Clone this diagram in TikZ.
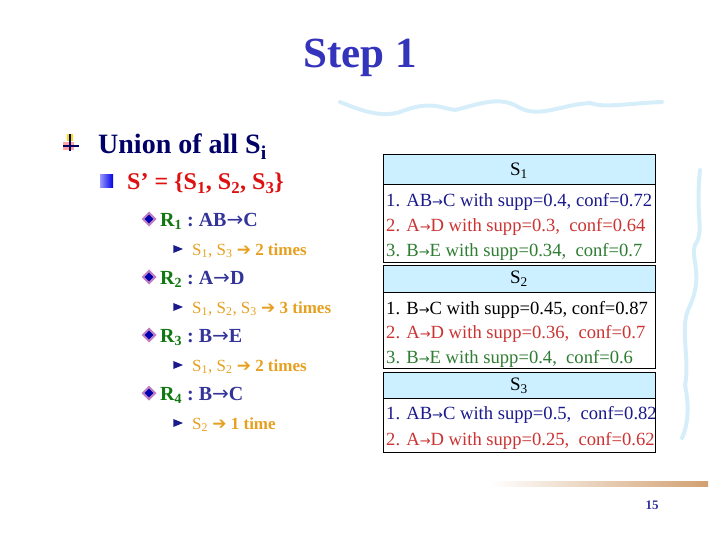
\documentclass[tikz,border=0pt]{standalone}
\usepackage{fontspec}
\setmainfont{Liberation Serif}
\newfontfamily\djv{DejaVu Sans}
\usetikzlibrary{shapes.geometric}
\definecolor{ttl}{HTML}{3333BB}
\definecolor{navy}{HTML}{000066}
\definecolor{sred}{HTML}{DD1111}
\definecolor{rgreen}{HTML}{117711}
\definecolor{rblue}{HTML}{333399}
\definecolor{subor}{HTML}{E6A020}
\definecolor{hdr}{HTML}{CCF0FF}
\definecolor{tnavy}{HTML}{1A1A8C}
\definecolor{tred}{HTML}{CC3333}
\definecolor{tgreen}{HTML}{2E7D32}
\definecolor{wave}{HTML}{D6EEFA}
\definecolor{bar}{HTML}{D2A071}
\tikzset{
 lvl1/.style={anchor=base west,font=\bfseries\fontsize{28}{30}\selectfont,text=navy,inner sep=0},
 lvl2/.style={anchor=base west,font=\bfseries\fontsize{24}{26}\selectfont,text=sred,inner sep=0},
 lvl3/.style={anchor=base west,font=\bfseries\fontsize{20}{22}\selectfont,text=rblue,inner sep=0},
 lvl4/.style={anchor=base west,font=\fontsize{17}{19}\selectfont,text=subor,inner sep=0},
 dia/.style={diamond,draw=violet!50,fill=blue!70!black,line width=2pt,inner sep=0,minimum size=13pt},
 tri/.style={isosceles triangle,fill=tnavy,inner sep=0,minimum height=8pt,minimum width=8pt},
 hdrbox/.style={draw=black,line width=1pt,fill=hdr},
 bodybox/.style={draw=black,line width=1pt,fill=white},
 row/.style={anchor=base west,font=\fontsize{18.6}{21}\selectfont,inner sep=0},
 hdrtxt/.style={font=\fontsize{19}{21}\selectfont,inner sep=0}
}
\begin{document}
\begin{tikzpicture}[x=1pt,y=-1pt]
\useasboundingbox (0,0) rectangle (720,540);
% decorations
\draw[wave,line width=4pt,line cap=round] (340,102) .. controls (360,110) and (380,118) .. (400,112) .. controls (430,100) and (440,108) .. (455,110) .. controls (480,104) and (500,95) .. (520,108) .. controls (540,118) and (560,105) .. (590,103) .. controls (605,108) and (620,104) .. (662,102);
\draw[wave,line width=4pt,line cap=round] (700,170) .. controls (695,220) and (705,230) .. (695,245) .. controls (690,260) and (705,275) .. (688,310) .. controls (680,330) and (690,360) .. (685,385) .. controls (688,400) and (690,420) .. (682,438);
\shade[left color=white,right color=bar] (490,481) rectangle (708,486);
\node (pg) at (652,505) {\fontsize{13}{14}\selectfont\bfseries\color{rblue}15};
% title
\node (title) at (360,58) {\bfseries\fontsize{43}{45}\selectfont\color{ttl}Step 1};
% level 1
\fill[red!60,opacity=.6] (63,142) rectangle (74,150);
\fill[yellow!80!orange] (67,134) rectangle (73,141);
\draw[navy,line width=1.5pt] (70,134) -- (70,151) (63,146) -- (79,146);
\node[lvl1] (u) at (98,154) {Union of all S\textsubscript{i}};
% level 2
\shade[left color=blue!40,right color=blue!90!black] (100,175) rectangle (113,188);
\node[lvl2] (sp) at (127,190) {S’ = \{S\textsubscript{1}, S\textsubscript{2}, S\textsubscript{3}\}};
% rules
\foreach \y/\n/\r/\s/\t in {226/1/AB/{S\textsubscript{1}, S\textsubscript{3}}/2 times,
   284/2/A/{S\textsubscript{1}, S\textsubscript{2}, S\textsubscript{3}}/3 times,
   342/3/B/{S\textsubscript{1}, S\textsubscript{2}}/2 times,
   400/4/B/{S\textsubscript{2}}/1 time}{
  \node[dia] (d\n) at (149,\y-7) {};
  \node[lvl3] (r\n) at (160,\y) {{\color{rgreen}R\textsubscript{\n}}{\color{rblue}\ :\ \r{\djv\mdseries→}\ifcase\n\or C\or D\or E\or C\fi}};
  \node[tri] (t\n) at (176,\y+29-6) {};
  \node[lvl4] (s\n) at (192,\y+29) {\s\ {\djv\bfseries ➔} \textbf{\t}};
}
% tables
\draw[hdrbox] (383,155) rectangle (655,185);
\draw[bodybox] (383,185) rectangle (655,262);
\draw[hdrbox] (383,265) rectangle (655,292);
\draw[bodybox] (383,292) rectangle (655,368);
\draw[hdrbox] (383,372) rectangle (655,398);
\draw[bodybox] (383,398) rectangle (655,452);
\node[hdrtxt] (h1) at (519,171) {S\textsubscript{1}};
\node[hdrtxt] (h2) at (519,279) {S\textsubscript{2}};
\node[hdrtxt] (h3) at (519,386) {S\textsubscript{3}};
\begin{scope}
\clip (383,150) rectangle (654.5,460);
\newcommand\arr{{\djv\fontsize{13}{13}\selectfont→}}
\node[row,text=tnavy] (a1) at (386,207) {1. AB\arr C with supp=0.4, conf=0.72};
\node[row,text=tred] (a2) at (386,231) {2. A\arr D with supp=0.3,\ \ conf=0.64};
\node[row,text=tgreen] (a3) at (386,256) {3. B\arr E with supp=0.34,\ \ conf=0.7};
\node[row,text=black] (b1) at (386,314) {1. B\arr C with supp=0.45, conf=0.87};
\node[row,text=tred] (b2) at (386,338) {2. A\arr D with supp=0.36,\ \ conf=0.7};
\node[row,text=tgreen] (b3) at (386,363) {3. B\arr E with supp=0.4,\ \ conf=0.6};
\node[row,text=tnavy] (c1) at (386,419) {1. AB\arr C with supp=0.5,\ \ conf=0.82};
\node[row,text=tred] (c2) at (386,445) {2. A\arr D with supp=0.25,\ \ conf=0.62};
\end{scope}
\end{tikzpicture}
\end{document}
